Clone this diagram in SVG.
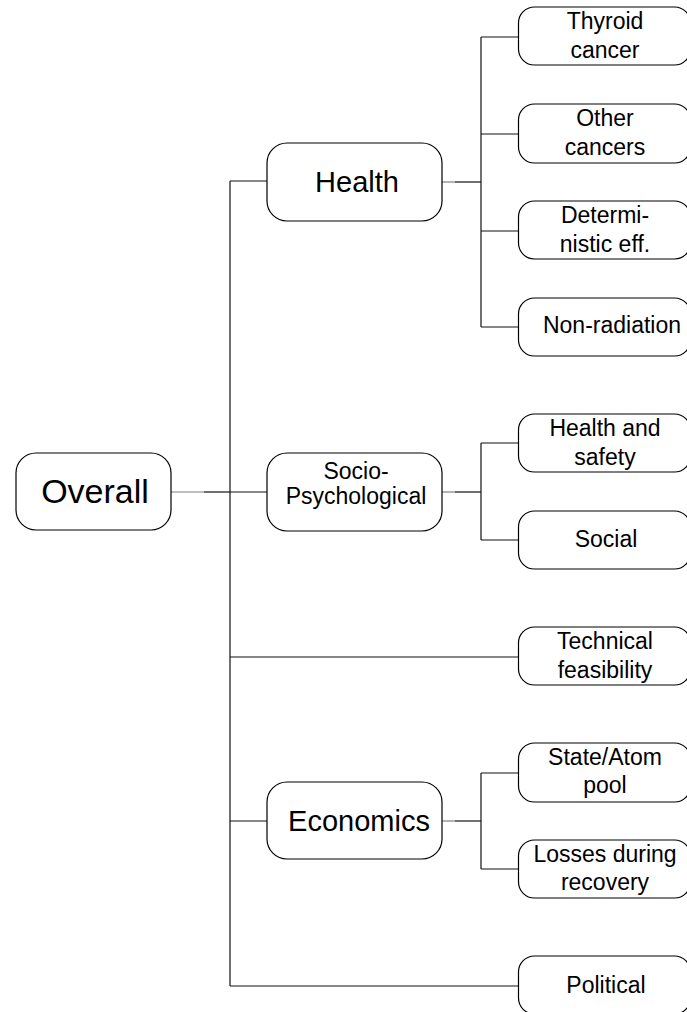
<svg xmlns="http://www.w3.org/2000/svg" width="687" height="1012" viewBox="0 0 687 1012">
  <style>
    .box { fill: #ffffff; stroke: #000000; stroke-width: 1.2; }
    .lbl { font-family: "Liberation Sans", Arial, sans-serif; fill: #000000; text-anchor: middle; }
    .big { font-size: 34px; }
    .mid { font-size: 29px; }
    .sm { font-size: 23px; }
    .ln { fill: none; stroke: #111111; stroke-width: 1.2; }
    .lg { fill: none; stroke: #808080; stroke-width: 1.2; }
  </style>
  <rect width="687" height="1012" fill="#ffffff"/>

  <!-- connectors -->
  <g id="connectors">
    <!-- root to trunk -->
    <path class="lg" d="M171,492 H204"/>
    <path class="ln" d="M204,492 H230"/>
    <!-- main trunk -->
    <path class="ln" d="M230,181 V986"/>
    <path class="ln" d="M230,181 H267"/>
    <path class="ln" d="M230,492 H267"/>
    <path class="ln" d="M230,657 H518"/>
    <path class="ln" d="M230,821 H267"/>
    <path class="ln" d="M230,986 H518"/>
    <!-- health branch -->
    <path class="lg" d="M442,182 H455"/>
    <path class="ln" d="M455,182 H481"/>
    <path class="ln" d="M481,37 V327"/>
    <path class="ln" d="M481,37 H518"/>
    <path class="ln" d="M481,134 H518"/>
    <path class="ln" d="M481,231 H518"/>
    <path class="ln" d="M481,327 H518"/>
    <!-- socio-psychological branch -->
    <path class="lg" d="M442,492 H455"/>
    <path class="ln" d="M455,492 H481"/>
    <path class="ln" d="M481,443 V540"/>
    <path class="ln" d="M481,443 H518"/>
    <path class="ln" d="M481,540 H518"/>
    <!-- economics branch -->
    <path class="lg" d="M442,821 H455"/>
    <path class="ln" d="M455,821 H481"/>
    <path class="ln" d="M481,773 V869"/>
    <path class="ln" d="M481,773 H518"/>
    <path class="ln" d="M481,869 H518"/>
  </g>

  <g id="overall">
    <rect class="box" x="16" y="453" width="155" height="77" rx="20"/>
    <text class="lbl big" x="95" y="503">Overall</text>
  </g>

  <g id="health">
    <rect class="box" x="267" y="143" width="175" height="78" rx="20"/>
    <text class="lbl mid" x="357" y="192">Health</text>
  </g>
  <g id="socio">
    <rect class="box" x="267" y="453" width="175" height="78" rx="20"/>
    <text class="lbl sm" x="356" y="479">Socio-</text>
    <text class="lbl sm" x="356" y="504">Psychological</text>
  </g>
  <g id="economics">
    <rect class="box" x="267" y="782" width="175" height="77" rx="20"/>
    <text class="lbl mid" x="359" y="831">Economics</text>
  </g>

  <g id="thyroid">
    <rect class="box" x="518.5" y="7" width="172" height="58" rx="16"/>
    <text class="lbl sm" x="605" y="29">Thyroid</text>
    <text class="lbl sm" x="605" y="58">cancer</text>
  </g>
  <g id="other-cancers">
    <rect class="box" x="518.5" y="104" width="172" height="59" rx="16"/>
    <text class="lbl sm" x="605" y="126">Other</text>
    <text class="lbl sm" x="605" y="155">cancers</text>
  </g>
  <g id="deterministic">
    <rect class="box" x="518.5" y="201" width="172" height="58" rx="16"/>
    <text class="lbl sm" x="605" y="223">Determi-</text>
    <text class="lbl sm" x="605" y="252">nistic eff.</text>
  </g>
  <g id="non-radiation">
    <rect class="box" x="518.5" y="298" width="172" height="58" rx="16"/>
    <text class="lbl sm" x="612" y="333">Non-radiation</text>
  </g>
  <g id="health-safety">
    <rect class="box" x="518.5" y="414" width="172" height="58" rx="16"/>
    <text class="lbl sm" x="605" y="436">Health and</text>
    <text class="lbl sm" x="605" y="465">safety</text>
  </g>
  <g id="social">
    <rect class="box" x="518.5" y="511" width="172" height="58" rx="16"/>
    <text class="lbl sm" x="606" y="547">Social</text>
  </g>
  <g id="technical">
    <rect class="box" x="518.5" y="627" width="172" height="58" rx="16"/>
    <text class="lbl sm" x="605" y="649">Technical</text>
    <text class="lbl sm" x="605" y="678">feasibility</text>
  </g>
  <g id="state-atom">
    <rect class="box" x="518.5" y="743" width="172" height="59" rx="16"/>
    <text class="lbl sm" x="605" y="765">State/Atom</text>
    <text class="lbl sm" x="605" y="793">pool</text>
  </g>
  <g id="losses">
    <rect class="box" x="518.5" y="840" width="172" height="58" rx="16"/>
    <text class="lbl sm" x="605" y="862">Losses during</text>
    <text class="lbl sm" x="605" y="890">recovery</text>
  </g>
  <g id="political">
    <rect class="box" x="518.5" y="956" width="172" height="58" rx="16"/>
    <text class="lbl sm" x="606" y="993">Political</text>
  </g>
</svg>
